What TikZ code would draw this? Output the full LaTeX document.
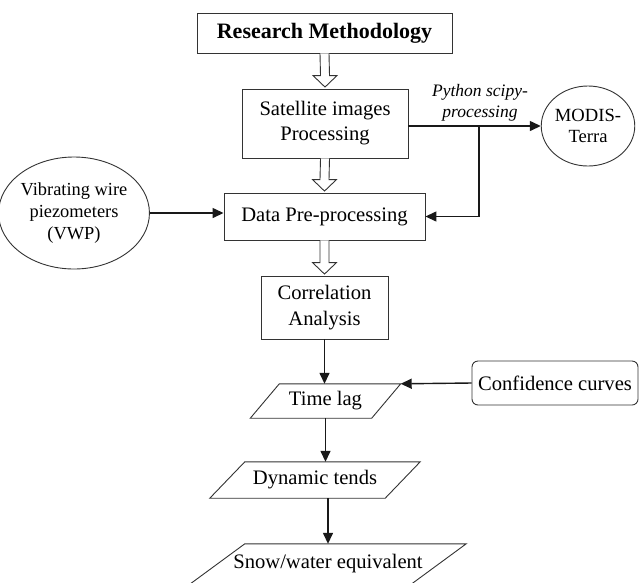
\documentclass[tikz,border=0pt]{standalone}
\usepackage{fontspec}
\setmainfont{Liberation Serif}
\usetikzlibrary{arrows.meta,calc,shapes.geometric}
\tikzset{
  boxline/.style={draw=black!80, line width=0.9pt},
  box/.style={boxline, rectangle, align=center, inner sep=0pt, font=\fontsize{20.6}{25}\selectfont},
  ell/.style={boxline, ellipse, align=center, inner sep=0pt},
  para/.style={rectangle, align=center, inner sep=0pt, font=\fontsize{20.6}{25}\selectfont},
  arr/.style={draw=black!90, line width=1.4pt, -{Triangle[length=11pt,width=10pt]}},
  hollow/.style={draw=black!80, line width=0.9pt, fill=white, line join=miter}
}
\newcommand\hollowarr[2]{%
  \draw[hollow] ($(#1.south)+(-4.5,0)$) -- ($(#2.north)+(-4.5,-13)$) -- ($(#2.north)+(-12,-13)$)
    -- ($(#2.north)+(0,-1.5)$) -- ($(#2.north)+(12,-13)$) -- ($(#2.north)+(4.5,-13)$) -- ($(#1.south)+(4.5,0)$);}
\newcommand\slanted[2]{%
  \draw[boxline] ($(#1.north west)+(#2,0)$) -- ($(#1.north east)+(#2,0)$)
    -- ($(#1.south east)+(-#2,0)$) -- ($(#1.south west)+(-#2,0)$) -- cycle;}
\begin{document}
\begin{tikzpicture}[x=1pt,y=-1pt]
\useasboundingbox (0,0) rectangle (639,582);
\clip (0,0) rectangle (639,582);

% boxes
\node[box, minimum width=255, minimum height=40, font=\fontsize{22}{26}\selectfont\bfseries] (title) at (324.5,33) {Research Methodology};
\node[box, minimum width=166, minimum height=69] (sat) at (325,123.5) {Satellite images\\Processing};
\node[box, minimum width=201, minimum height=47] (data) at (324.5,216.5) {Data Pre-processing};
\node[box, minimum width=127, minimum height=63, font=\fontsize{20.6}{26}\selectfont] (corr) at (324.5,307.5) {Correlation\\Analysis};
\node[box, rounded corners=6pt, minimum width=166, minimum height=44] (conf) at (555,383) {Confidence curves};
\node[ell, minimum width=128, minimum height=112, font=\fontsize{18.4}{22}\selectfont] (vwp) at (74,213) {Vibrating wire\\piezometers\\(VWP)};
\node[ell, minimum width=88, minimum height=80, font=\fontsize{18.6}{21}\selectfont] (modis) at (588,126) {MODIS-\\Terra};
\node[font=\fontsize{17.5}{21}\selectfont\itshape, align=center, inner sep=0pt] (py) at (480,102.5) {Python scipy-\\processing};

% parallelograms
\node[para, minimum width=121, minimum height=34] (tl) at (325.5,401) {Time lag};
\slanted{tl}{14.5}
\node[para, minimum width=175, minimum height=36] (dyn) at (315,480) {Dynamic tends};
\slanted{dyn}{17.5}
\node[para, minimum width=221, minimum height=40] (snow) at (328,564) {Snow/water equivalent};
\slanted{snow}{27.5}
\coordinate (tlne) at ($(tl.north east)+(14.5,0)$);

% hollow arrows
\hollowarr{title}{sat}
\hollowarr{sat}{data}
\hollowarr{data}{corr}

% solid connectors
\draw[arr] (sat.east |- modis.west) -- (modis.west);
\coordinate (br) at (479,126);
\draw[arr] (br) |- (data.east);
\draw[arr] (vwp.east) -- (vwp.east -| data.west);
\draw[arr] (corr.south) -- (corr.south |- tl.north);
\draw[arr] (conf.west) -- (tlne);
\draw[arr] (tl.south) -- (tl.south |- dyn.north);
\draw[arr] (snow.north |- dyn.south) -- (snow.north);
\end{tikzpicture}
\end{document}
